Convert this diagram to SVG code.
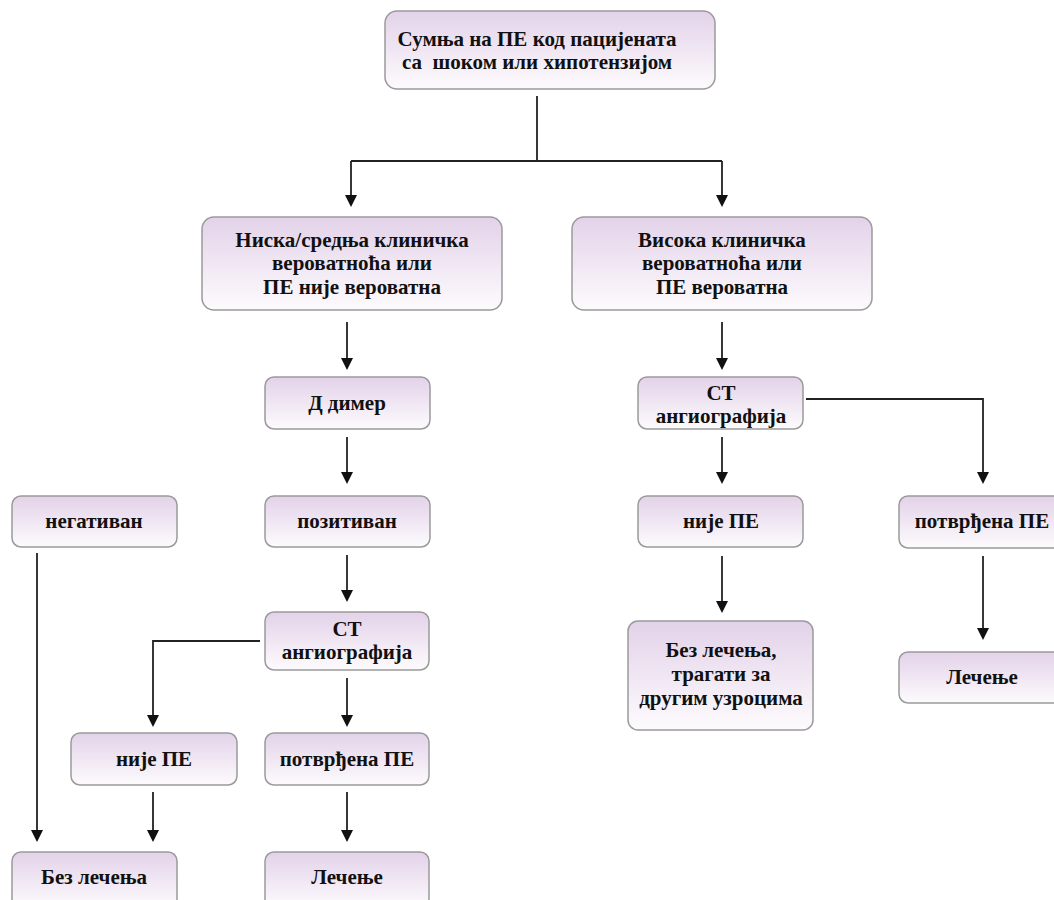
<svg xmlns="http://www.w3.org/2000/svg" width="1054" height="900" viewBox="0 0 1054 900">
<defs>
<linearGradient id="g" x1="0" y1="0" x2="0" y2="1">
<stop offset="0" stop-color="#e3d2e9"/>
<stop offset="1" stop-color="#fdfbfd"/>
</linearGradient>
<style>
.b{fill:url(#g);stroke:#9a9a9a;stroke-width:1.5}
.t{font-family:'Liberation Serif','DejaVu Serif','Times New Roman',serif;font-weight:700;font-size:21px;fill:#111;text-anchor:middle;white-space:pre}
.c{fill:none;stroke:#222;stroke-width:1.8}
.a{fill:#111;stroke:none}
</style>
</defs>
<rect width="1054" height="900" fill="#fff"/>
<g id="connectors">
<path class="c" d="M537,96 V161 M351,161 H722 M351,161 V196 M722,161 V196"/>
<path class="a" d="M345,195 h12 l-6,12 z M716,195 h12 l-6,12 z"/>
<path class="c" d="M347,322 V360 M722,322 V360"/>
<path class="a" d="M341,358 h12 l-6,12 z M716,358 h12 l-6,12 z"/>
<path class="c" d="M347,437 V474"/>
<path class="a" d="M341,472 h12 l-6,12 z"/>
<path class="c" d="M347,555 V592"/>
<path class="a" d="M341,590 h12 l-6,12 z"/>
<path class="c" d="M260,641 H153 V716"/>
<path class="a" d="M147,715 h12 l-6,12 z"/>
<path class="c" d="M347,678 V716"/>
<path class="a" d="M341,715 h12 l-6,12 z"/>
<path class="c" d="M153,792 V831 M347,792 V831 M37,553 V831"/>
<path class="a" d="M147,830 h12 l-6,12 z M341,830 h12 l-6,12 z M31,830 h12 l-6,12 z"/>
<path class="c" d="M806,399 H983 V474"/>
<path class="a" d="M977,472 h12 l-6,12 z"/>
<path class="c" d="M722,437 V474"/>
<path class="a" d="M716,472 h12 l-6,12 z"/>
<path class="c" d="M722,556 V602"/>
<path class="a" d="M716,601 h12 l-6,12 z"/>
<path class="c" d="M983,556 V629"/>
<path class="a" d="M977,628 h12 l-6,12 z"/>
</g>
<g id="n1"><rect class="b" x="385" y="11" width="330" height="78" rx="12"/>
<text class="t" x="537" y="46" font-family="Liberation Serif">Сумња на ПЕ код пацијената</text>
<text class="t" x="537" y="69" font-family="Liberation Serif" xml:space="preserve">са  шоком или хипотензијом</text></g>
<g id="n2"><rect class="b" x="202" y="217" width="300" height="93" rx="12"/>
<text class="t" x="352" y="247">Ниска/средња клиничка</text>
<text class="t" x="352" y="270">вероватноћа или</text>
<text class="t" x="352" y="294">ПЕ није вероватна</text></g>
<g id="n3"><rect class="b" x="572" y="217" width="300" height="93" rx="12"/>
<text class="t" x="722" y="247">Висока клиничка</text>
<text class="t" x="722" y="270">вероватноћа или</text>
<text class="t" x="722" y="294">ПЕ вероватна</text></g>
<g id="n4"><rect class="b" x="265" y="377" width="165" height="52" rx="9"/>
<text class="t" x="347" y="410">Д димер</text></g>
<g id="n5"><rect class="b" x="265" y="496" width="165" height="51" rx="9"/>
<text class="t" x="347" y="528">позитиван</text></g>
<g id="n6"><rect class="b" x="12" y="496" width="165" height="51" rx="9"/>
<text class="t" x="94" y="528">негативан</text></g>
<g id="n7"><rect class="b" x="265" y="612" width="164" height="58" rx="9"/>
<text class="t" x="347" y="636">СТ</text>
<text class="t" x="347" y="659">ангиографија</text></g>
<g id="n8"><rect class="b" x="71" y="733" width="166" height="52" rx="9"/>
<text class="t" x="154" y="766">није ПЕ</text></g>
<g id="n9"><rect class="b" x="265" y="733" width="164" height="52" rx="9"/>
<text class="t" x="347" y="766">потврђена ПЕ</text></g>
<g id="n10"><rect class="b" x="12" y="852" width="165" height="56" rx="9"/>
<text class="t" x="94" y="884">Без лечења</text></g>
<g id="n11"><rect class="b" x="265" y="852" width="164" height="56" rx="9"/>
<text class="t" x="347" y="884">Лечење</text></g>
<g id="n12"><rect class="b" x="638" y="377" width="165" height="52" rx="9"/>
<text class="t" x="721" y="400">СТ</text>
<text class="t" x="721" y="423">ангиографија</text></g>
<g id="n13"><rect class="b" x="638" y="496" width="165" height="51" rx="9"/>
<text class="t" x="721" y="528">није ПЕ</text></g>
<g id="n14"><rect class="b" x="899" y="496" width="168" height="52" rx="9"/>
<text class="t" x="982" y="528">потврђена ПЕ</text></g>
<g id="n15"><rect class="b" x="899" y="652" width="168" height="51" rx="9"/>
<text class="t" x="982" y="684">Лечење</text></g>
<g id="n16"><rect class="b" x="628" y="621" width="185" height="109" rx="10"/>
<text class="t" x="721" y="657">Без лечења,</text>
<text class="t" x="721" y="681">трагати за</text>
<text class="t" x="721" y="705">другим узроцима</text></g>
</svg>
